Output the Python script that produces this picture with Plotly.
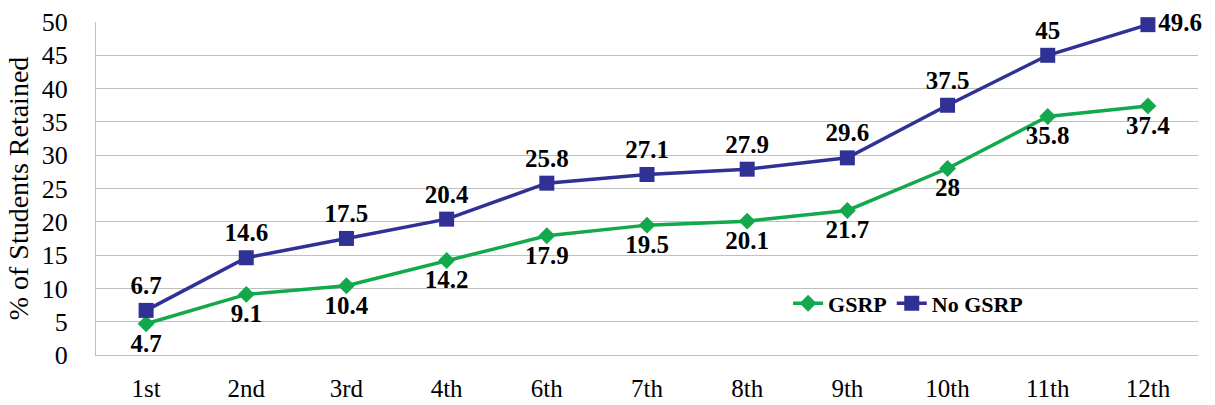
import plotly.graph_objects as go

grades = ["1st", "2nd", "3rd", "4th", "6th", "7th", "8th", "9th", "10th", "11th", "12th"]
gsrp = [4.7, 9.1, 10.4, 14.2, 17.9, 19.5, 20.1, 21.7, 28, 35.8, 37.4]
no_gsrp = [6.7, 14.6, 17.5, 20.4, 25.8, 27.1, 27.9, 29.6, 37.5, 45, 49.6]

font = "Liberation Serif"
green = "#12a84c"
navy = "#2f3194"

fig = go.Figure()
fig.add_trace(go.Scatter(
    x=grades, y=gsrp, name="GSRP", mode="lines+markers+text",
    line=dict(color=green, width=3.5),
    marker=dict(symbol="diamond", size=13, color=green),
    text=[str(v) for v in gsrp], textposition="bottom center",
    textfont=dict(family=font, size=25, color="black", weight="bold"),
    cliponaxis=False,
))
fig.add_trace(go.Scatter(
    x=grades, y=no_gsrp, name="No GSRP", mode="lines+markers+text",
    line=dict(color=navy, width=3.5),
    marker=dict(symbol="square", size=15, color=navy),
    text=[str(v) for v in no_gsrp],
    textposition=["top center"] * 10 + ["middle right"],
    textfont=dict(family=font, size=25, color="black", weight="bold"),
    cliponaxis=False,
))

fig.update_layout(
    width=1215, height=405,
    margin=dict(l=96, r=17, t=22, b=50),
    plot_bgcolor="white", paper_bgcolor="white",
    font=dict(family=font, size=26, color="black"),
    showlegend=True,
    legend=dict(orientation="h", x=0.628, y=0.155, xanchor="left", yanchor="middle",
                bgcolor="rgba(0,0,0,0)", font=dict(family=font, size=22, color="black", weight="bold"),
                itemwidth=30, tracegroupgap=0),
)
fig.update_xaxes(range=[-0.5, 10.5], showgrid=False, showline=True, linecolor="#bfbfbf", linewidth=1,
                 ticks="", tickfont=dict(family=font, size=25), ticklabelstandoff=11, automargin=False)
fig.update_yaxes(range=[0, 50], dtick=5, showgrid=True, gridcolor="#bfbfbf", gridwidth=1,
                 showline=True, linecolor="#bfbfbf", linewidth=1, zeroline=False,
                 tickfont=dict(family=font, size=26), ticks="", ticklabelstandoff=22, automargin=False,
                 title=dict(text="% of Students Retained", font=dict(family=font, size=28), standoff=4))

fig.write_html("out.html")
